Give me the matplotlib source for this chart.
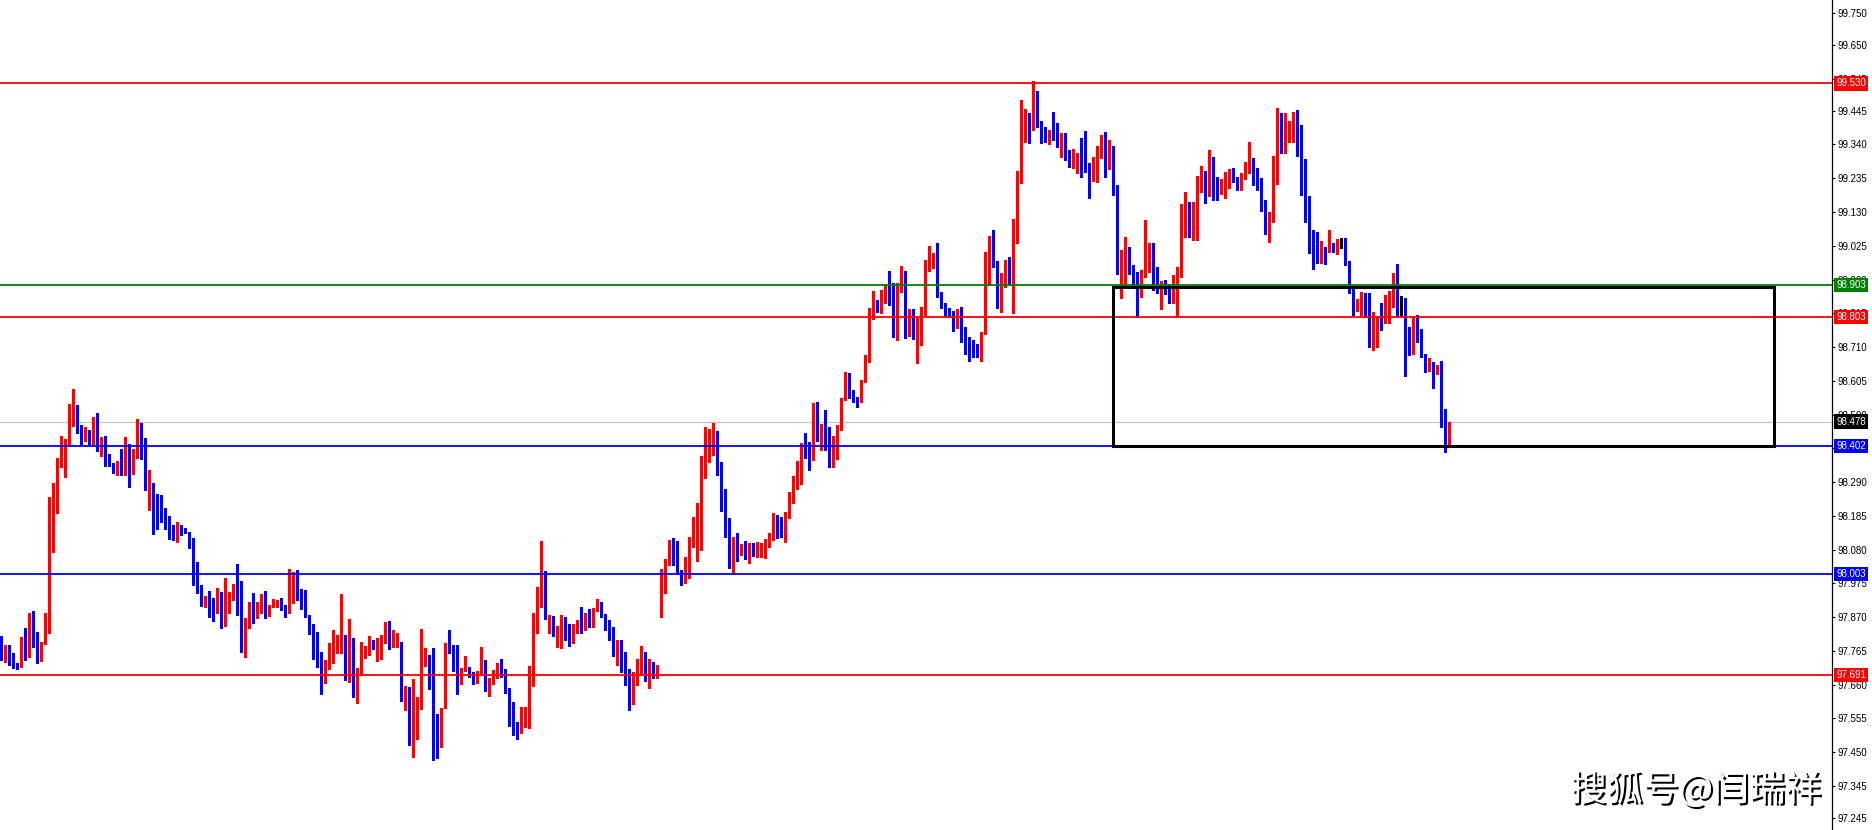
import numpy as np
import matplotlib
matplotlib.use("Agg")
import matplotlib.pyplot as plt
import matplotlib.patheffects as pe
from matplotlib.patches import Rectangle

# candle data (one bar every 4 px, oldest first)
opens = [
    97.809, 97.742, 97.783, 97.747, 97.719, 97.714, 97.802, 97.762, 97.869, 97.788,
    97.783, 97.785, 97.849, 98.157, 98.260, 98.359, 98.388, 98.408, 98.483, 98.525,
    98.468, 98.431, 98.452, 98.408, 98.471, 98.388, 98.429, 98.362, 98.346, 98.328,
    98.356, 98.328, 98.393, 98.336, 98.369, 98.468, 98.423, 98.282, 98.287, 98.217,
    98.214, 98.203, 98.157, 98.122, 98.116, 98.151, 98.138, 98.135, 98.117, 97.989,
    97.970, 97.927, 97.932, 97.918, 97.887, 97.948, 97.869, 97.892, 97.944, 97.954,
    97.889, 97.773, 97.840, 97.913, 97.884, 97.884, 97.939, 97.877, 97.905, 97.907,
    97.916, 97.906, 97.889, 97.965, 98.001, 97.942, 97.911, 97.873, 97.847, 97.790,
    97.759, 97.677, 97.737, 97.759, 97.772, 97.785, 97.814, 97.672, 97.806, 97.641,
    97.693, 97.750, 97.752, 97.799, 97.778, 97.794, 97.809, 97.814, 97.780, 97.783,
    97.793, 97.612, 97.654, 97.529, 97.607, 97.619, 97.724, 97.752, 97.752, 97.569,
    97.517, 97.586, 97.778, 97.768, 97.759, 97.676, 97.705, 97.707, 97.695, 97.683,
    97.695, 97.737, 97.645, 97.672, 97.685, 97.702, 97.693, 97.638, 97.588, 97.534,
    97.511, 97.542, 97.579, 97.693, 97.822, 97.905, 98.001, 97.863, 97.873, 97.820,
    97.830, 97.866, 97.820, 97.800, 97.840, 97.860, 97.840, 97.860, 97.850, 97.897,
    97.914, 97.876, 97.840, 97.820, 97.770, 97.780, 97.720, 97.690, 97.630, 97.680,
    97.720, 97.740, 97.690, 97.710, 97.690, 97.877, 97.949, 98.042, 98.084, 98.060,
    98.014, 97.996, 98.029, 98.099, 98.172, 98.198, 98.361, 98.369, 98.379, 98.405,
    98.350, 98.208, 98.153, 98.032, 98.087, 98.073, 98.089, 98.081, 98.091, 98.079,
    98.084, 98.089, 98.093, 98.115, 98.188, 98.162, 98.131, 98.177, 98.224, 98.268,
    98.338, 98.405, 98.400, 98.359, 98.471, 98.421, 98.465, 98.462, 98.400, 98.426,
    98.460, 98.550, 98.607, 98.561, 98.552, 98.543, 98.605, 98.664, 98.825, 98.838,
    98.825, 98.853, 98.875, 98.867, 98.778, 98.882, 98.931, 98.768, 98.815, 98.753,
    98.771, 98.813, 98.952, 98.968, 98.975, 98.879, 98.836, 98.828, 98.806, 98.771,
    98.825, 98.771, 98.732, 98.697, 98.696, 98.687, 98.753, 98.965, 99.020, 98.968,
    98.838, 98.903, 98.942, 98.913, 99.036, 99.230, 99.383, 99.409, 99.395, 99.506,
    99.413, 99.369, 99.352, 99.366, 99.362, 99.333, 99.369, 99.323, 99.273, 99.281,
    99.310, 99.299, 99.276, 99.237, 99.294, 99.331, 99.366, 99.268, 99.300, 99.211,
    98.950, 98.986, 99.009, 98.950, 98.913, 98.867, 98.937, 98.996, 99.032, 98.898,
    98.891, 98.896, 98.893, 98.882, 98.918, 98.939, 99.062, 99.152, 99.072, 99.131,
    99.209, 99.223, 99.180, 99.295, 99.201, 99.198, 99.209, 99.232, 99.261, 99.227,
    99.214, 99.248, 99.273, 99.295, 99.243, 99.221, 99.167, 99.062, 99.100, 99.258,
    99.411, 99.316, 99.377, 99.388, 99.401, 99.388, 99.252, 99.118, 99.019, 99.007,
    98.991, 99.019, 99.014, 99.030, 99.007, 99.034, 99.043, 98.978, 98.887, 98.830,
    98.836, 98.874, 98.872, 98.742, 98.773, 98.796, 98.786, 98.823, 98.877, 98.918,
    98.823, 98.822, 98.711, 98.688, 98.789, 98.766, 98.685, 98.636, 98.664, 98.630,
    98.642, 98.504, 98.428,
]
highs = [
    97.811, 97.783, 97.783, 97.759, 97.726, 97.809, 97.835, 97.882, 97.890, 97.825,
    97.794, 97.882, 98.245, 98.288, 98.364, 98.433, 98.423, 98.533, 98.580, 98.530,
    98.468, 98.460, 98.452, 98.493, 98.506, 98.431, 98.433, 98.377, 98.348, 98.356,
    98.392, 98.429, 98.408, 98.392, 98.485, 98.473, 98.426, 98.328, 98.287, 98.253,
    98.250, 98.208, 98.185, 98.157, 98.167, 98.157, 98.146, 98.136, 98.117, 98.042,
    97.970, 97.936, 97.952, 97.928, 97.960, 97.948, 97.991, 97.949, 97.973, 98.035,
    97.982, 97.867, 97.918, 97.944, 97.918, 97.942, 97.952, 97.908, 97.925, 97.923,
    97.928, 97.908, 98.020, 98.011, 98.017, 97.957, 97.954, 97.877, 97.847, 97.825,
    97.761, 97.737, 97.790, 97.830, 97.814, 97.942, 97.814, 97.863, 97.806, 97.711,
    97.794, 97.780, 97.811, 97.799, 97.804, 97.814, 97.854, 97.858, 97.830, 97.822,
    97.793, 97.657, 97.654, 97.677, 97.622, 97.833, 97.773, 97.752, 97.775, 97.569,
    97.586, 97.788, 97.830, 97.782, 97.782, 97.713, 97.749, 97.716, 97.700, 97.702,
    97.777, 97.737, 97.680, 97.705, 97.728, 97.740, 97.709, 97.648, 97.607, 97.545,
    97.591, 97.591, 97.719, 97.882, 97.965, 98.107, 98.013, 97.877, 97.873, 97.842,
    97.877, 97.870, 97.850, 97.850, 97.860, 97.902, 97.882, 97.894, 97.897, 97.926,
    97.917, 97.880, 97.860, 97.840, 97.800, 97.800, 97.760, 97.710, 97.700, 97.740,
    97.780, 97.760, 97.740, 97.730, 97.720, 98.019, 98.050, 98.110, 98.115, 98.108,
    98.016, 98.058, 98.120, 98.182, 98.224, 98.371, 98.462, 98.454, 98.475, 98.450,
    98.353, 98.268, 98.179, 98.120, 98.133, 98.097, 98.108, 98.101, 98.099, 98.105,
    98.101, 98.112, 98.133, 98.193, 98.188, 98.180, 98.198, 98.260, 98.309, 98.356,
    98.412, 98.444, 98.416, 98.535, 98.540, 98.470, 98.514, 98.462, 98.433, 98.467,
    98.550, 98.633, 98.628, 98.576, 98.556, 98.609, 98.685, 98.832, 98.885, 98.856,
    98.887, 98.906, 98.946, 98.908, 98.908, 98.962, 98.946, 98.827, 98.827, 98.799,
    98.833, 98.981, 99.024, 99.001, 99.034, 98.882, 98.846, 98.830, 98.823, 98.829,
    98.833, 98.773, 98.742, 98.732, 98.719, 98.757, 99.007, 99.055, 99.074, 98.979,
    98.941, 98.981, 98.989, 99.108, 99.258, 99.478, 99.449, 99.437, 99.537, 99.506,
    99.413, 99.393, 99.385, 99.440, 99.406, 99.377, 99.377, 99.323, 99.325, 99.315,
    99.359, 99.382, 99.283, 99.300, 99.335, 99.369, 99.379, 99.354, 99.335, 99.214,
    99.012, 99.053, 99.022, 98.965, 98.944, 98.950, 99.105, 99.033, 99.035, 98.960,
    98.916, 98.920, 98.905, 98.934, 98.960, 99.155, 99.193, 99.162, 99.162, 99.242,
    99.273, 99.259, 99.323, 99.302, 99.238, 99.232, 99.255, 99.263, 99.267, 99.240,
    99.252, 99.284, 99.349, 99.299, 99.266, 99.235, 99.167, 99.131, 99.304, 99.455,
    99.437, 99.437, 99.413, 99.442, 99.447, 99.401, 99.294, 99.180, 99.074, 99.069,
    99.041, 99.022, 99.074, 99.033, 99.045, 99.048, 99.048, 98.978, 98.898, 98.858,
    98.882, 98.877, 98.879, 98.820, 98.807, 98.848, 98.872, 98.885, 98.941, 98.968,
    98.869, 98.864, 98.773, 98.807, 98.810, 98.766, 98.688, 98.675, 98.664, 98.654,
    98.668, 98.516, 98.476,
]
lows = [
    97.737, 97.731, 97.721, 97.711, 97.708, 97.714, 97.737, 97.747, 97.778, 97.728,
    97.735, 97.785, 97.820, 98.074, 98.193, 98.336, 98.307, 98.405, 98.464, 98.444,
    98.407, 98.418, 98.405, 98.405, 98.388, 98.371, 98.340, 98.340, 98.319, 98.312,
    98.312, 98.312, 98.276, 98.315, 98.364, 98.361, 98.265, 98.203, 98.128, 98.144,
    98.167, 98.143, 98.112, 98.110, 98.105, 98.125, 98.131, 98.084, 97.970, 97.946,
    97.905, 97.902, 97.871, 97.859, 97.882, 97.835, 97.842, 97.882, 97.923, 97.877,
    97.762, 97.745, 97.835, 97.853, 97.866, 97.882, 97.866, 97.873, 97.902, 97.902,
    97.892, 97.869, 97.882, 97.915, 97.923, 97.895, 97.871, 97.816, 97.740, 97.716,
    97.632, 97.664, 97.710, 97.726, 97.757, 97.757, 97.674, 97.669, 97.622, 97.602,
    97.690, 97.742, 97.752, 97.770, 97.734, 97.739, 97.790, 97.770, 97.776, 97.778,
    97.609, 97.581, 97.472, 97.436, 97.491, 97.583, 97.718, 97.645, 97.424, 97.431,
    97.465, 97.586, 97.757, 97.703, 97.632, 97.661, 97.702, 97.685, 97.661, 97.666,
    97.693, 97.641, 97.625, 97.662, 97.680, 97.685, 97.633, 97.532, 97.503, 97.491,
    97.508, 97.529, 97.526, 97.657, 97.822, 97.902, 97.863, 97.822, 97.811, 97.776,
    97.775, 97.800, 97.780, 97.790, 97.820, 97.820, 97.830, 97.840, 97.840, 97.890,
    97.870, 97.830, 97.800, 97.750, 97.720, 97.700, 97.660, 97.580, 97.600, 97.660,
    97.690, 97.670, 97.650, 97.680, 97.680, 97.870, 97.944, 98.032, 98.032, 98.004,
    97.970, 97.975, 97.991, 98.089, 98.045, 98.079, 98.302, 98.353, 98.374, 98.312,
    98.201, 98.118, 98.022, 98.004, 98.045, 98.063, 98.050, 98.039, 98.060, 98.058,
    98.058, 98.053, 98.089, 98.110, 98.115, 98.118, 98.105, 98.177, 98.224, 98.268,
    98.284, 98.364, 98.327, 98.359, 98.419, 98.390, 98.390, 98.336, 98.336, 98.361,
    98.452, 98.545, 98.550, 98.540, 98.522, 98.540, 98.602, 98.664, 98.796, 98.820,
    98.815, 98.848, 98.841, 98.742, 98.732, 98.882, 98.739, 98.744, 98.734, 98.661,
    98.716, 98.810, 98.947, 98.955, 98.867, 98.830, 98.804, 98.802, 98.761, 98.768,
    98.727, 98.688, 98.668, 98.678, 98.680, 98.668, 98.750, 98.903, 98.960, 98.830,
    98.820, 98.898, 98.903, 98.817, 99.033, 99.221, 99.349, 99.346, 99.385, 99.393,
    99.346, 99.347, 99.342, 99.354, 99.331, 99.302, 99.292, 99.269, 99.266, 99.252,
    99.240, 99.255, 99.175, 99.227, 99.224, 99.297, 99.240, 99.264, 99.183, 98.937,
    98.864, 98.903, 98.937, 98.898, 98.804, 98.867, 98.927, 98.944, 98.887, 98.877,
    98.827, 98.875, 98.846, 98.846, 98.804, 98.929, 99.051, 99.053, 99.043, 99.043,
    99.193, 99.159, 99.180, 99.167, 99.167, 99.185, 99.172, 99.204, 99.224, 99.198,
    99.198, 99.232, 99.252, 99.214, 99.198, 99.134, 99.062, 99.038, 99.100, 99.217,
    99.313, 99.313, 99.349, 99.349, 99.304, 99.183, 99.100, 99.004, 98.953, 98.970,
    98.972, 98.967, 99.007, 99.005, 98.999, 99.019, 98.965, 98.877, 98.810, 98.823,
    98.810, 98.804, 98.711, 98.701, 98.709, 98.763, 98.786, 98.784, 98.834, 98.805,
    98.805, 98.620, 98.685, 98.688, 98.727, 98.680, 98.633, 98.636, 98.582, 98.626,
    98.462, 98.385, 98.400,
]
closes = [
    97.742, 97.783, 97.742, 97.719, 97.714, 97.804, 97.762, 97.871, 97.788, 97.783,
    97.791, 97.851, 98.162, 98.262, 98.359, 98.390, 98.414, 98.485, 98.527, 98.464,
    98.429, 98.452, 98.408, 98.471, 98.388, 98.429, 98.357, 98.343, 98.328, 98.356,
    98.328, 98.393, 98.336, 98.371, 98.471, 98.419, 98.284, 98.287, 98.210, 98.210,
    98.198, 98.154, 98.118, 98.113, 98.151, 98.136, 98.134, 98.117, 97.985, 97.968,
    97.925, 97.932, 97.911, 97.890, 97.948, 97.869, 97.894, 97.946, 97.954, 97.887,
    97.773, 97.842, 97.911, 97.884, 97.892, 97.942, 97.877, 97.906, 97.911, 97.915,
    97.902, 97.887, 97.970, 98.001, 97.939, 97.908, 97.871, 97.847, 97.790, 97.759,
    97.677, 97.737, 97.765, 97.775, 97.786, 97.814, 97.674, 97.807, 97.645, 97.695,
    97.752, 97.754, 97.797, 97.778, 97.799, 97.811, 97.814, 97.781, 97.788, 97.793,
    97.612, 97.654, 97.529, 97.609, 97.619, 97.724, 97.752, 97.680, 97.563, 97.517,
    97.586, 97.776, 97.766, 97.759, 97.677, 97.711, 97.713, 97.685, 97.683, 97.700,
    97.737, 97.643, 97.676, 97.693, 97.702, 97.687, 97.635, 97.586, 97.532, 97.511,
    97.544, 97.581, 97.695, 97.827, 97.908, 98.001, 97.863, 97.877, 97.820, 97.840,
    97.861, 97.820, 97.800, 97.840, 97.850, 97.840, 97.860, 97.850, 97.897, 97.911,
    97.876, 97.840, 97.820, 97.770, 97.780, 97.720, 97.690, 97.630, 97.680, 97.720,
    97.740, 97.690, 97.710, 97.690, 97.705, 97.954, 98.042, 98.084, 98.060, 98.008,
    97.998, 98.029, 98.099, 98.177, 98.198, 98.361, 98.372, 98.382, 98.405, 98.346,
    98.205, 98.149, 98.032, 98.087, 98.073, 98.084, 98.081, 98.092, 98.081, 98.087,
    98.094, 98.101, 98.115, 98.190, 98.156, 98.131, 98.180, 98.229, 98.272, 98.341,
    98.405, 98.390, 98.340, 98.471, 98.419, 98.464, 98.462, 98.400, 98.429, 98.464,
    98.550, 98.609, 98.556, 98.550, 98.543, 98.607, 98.666, 98.829, 98.838, 98.825,
    98.856, 98.872, 98.865, 98.778, 98.884, 98.931, 98.768, 98.815, 98.750, 98.771,
    98.813, 98.953, 98.968, 98.975, 98.879, 98.833, 98.823, 98.804, 98.773, 98.827,
    98.765, 98.727, 98.696, 98.692, 98.687, 98.753, 98.968, 99.019, 98.962, 98.838,
    98.913, 98.946, 98.916, 99.040, 99.233, 99.385, 99.409, 99.392, 99.506, 99.411,
    99.367, 99.354, 99.366, 99.357, 99.336, 99.369, 99.321, 99.273, 99.284, 99.310,
    99.297, 99.273, 99.237, 99.295, 99.331, 99.366, 99.268, 99.300, 99.211, 98.950,
    98.986, 99.012, 98.950, 98.913, 98.804, 98.937, 98.996, 99.029, 98.944, 98.891,
    98.896, 98.889, 98.882, 98.924, 98.939, 99.062, 99.152, 99.072, 99.133, 99.211,
    99.223, 99.180, 99.295, 99.198, 99.196, 99.211, 99.238, 99.261, 99.227, 99.214,
    99.250, 99.279, 99.295, 99.233, 99.233, 99.165, 99.062, 99.100, 99.258, 99.408,
    99.316, 99.380, 99.390, 99.401, 99.383, 99.252, 99.115, 99.019, 99.004, 98.989,
    99.017, 99.010, 99.022, 99.010, 99.043, 99.034, 98.972, 98.887, 98.830, 98.838,
    98.872, 98.861, 98.742, 98.779, 98.802, 98.789, 98.827, 98.879, 98.918, 98.823,
    98.823, 98.708, 98.688, 98.789, 98.763, 98.682, 98.636, 98.672, 98.630, 98.644,
    98.504, 98.431, 98.476,
]

# horizontal levels drawn on the chart
level_prices = [99.530, 98.903, 98.803, 98.402, 98.003, 97.691]
level_colors = ["#ff0000", "#008000", "#ff0000", "#0000ff", "#0000ff", "#ff0000"]
bid_price = 98.478

# price scale ticks on the right
tick_values = [99.750, 99.650, 99.545, 99.445, 99.340, 99.235, 99.130, 99.025,
               98.920, 98.815, 98.710, 98.605, 98.500, 98.395, 98.290, 98.185,
               98.080, 97.975, 97.870, 97.765, 97.660, 97.555, 97.450, 97.345,
               97.245]

# rectangle drawn over the range (bar index / price)
box_left, box_right = 278.1, 443.3
box_low, box_high = 98.402, 98.897

watermark = "搜狐号@闫瑞祥"

plt.rcParams["font.family"] = ["Liberation Sans", "DejaVu Sans"]

W, H = 1872, 830
fig = plt.figure(figsize=(W / 100, H / 100), dpi=100)
fig.patch.set_facecolor("white")
ax = fig.add_axes([0, 0, 1832 / W, 1])
ax.set_facecolor("white")

o = np.array(opens)
h = np.array(highs)
l = np.array(lows)
c = np.array(closes)
x = np.arange(len(o))

cols = np.where(c > o, "#ff0000", np.where(c < o, "#0000ff", "#000000"))

# wicks and bodies
ax.vlines(x, l, h, colors=cols, linewidth=0.75, antialiased=False, zorder=2)
body_lo = np.minimum(o, c)
body_h = np.maximum(np.abs(c - o), 0.0032)
ax.bar(x, body_h, bottom=body_lo, width=0.75, color=cols, linewidth=0,
       antialiased=False, zorder=2)

# levels
ax.axhline(bid_price, color="#c0c0c0", lw=0.8, zorder=1.5)
for p, col in zip(level_prices, level_colors):
    ax.axhline(p, color=col, lw=1.3, zorder=4)

ax.add_patch(Rectangle((box_left, box_low), box_right - box_left, box_high - box_low,
                       fill=False, ec="black", lw=2.2, zorder=5))

# axes / scale
ax.set_xlim(-0.25, 457.75)
ax.set_ylim(97.2078, 99.7894)
ax.set_xticks([])
ax.yaxis.tick_right()
ax.set_yticks(tick_values)
ax.set_yticklabels(["%.3f" % v for v in tick_values])
ax.tick_params(axis="y", direction="out", length=2.5, width=0.8, pad=1.5,
               labelsize=7, colors="black")
for side in ["left", "top", "bottom"]:
    ax.spines[side].set_visible(False)
ax.spines["right"].set_linewidth(0.9)
ax.spines["right"].set_color("black")

# coloured price tags on the scale
tag_tr = ax.get_yaxis_transform()
for p, col in zip(level_prices, level_colors):
    ax.text(1.0024, p, "%.3f" % p, transform=tag_tr, ha="left", va="center",
            fontsize=7, color="white", clip_on=False, zorder=10,
            bbox=dict(boxstyle="square,pad=0.22", fc=col, ec="none"))
ax.text(1.0024, bid_price, "%.3f" % bid_price, transform=tag_tr, ha="left",
        va="center", fontsize=7, color="white", clip_on=False, zorder=10,
        bbox=dict(boxstyle="square,pad=0.22", fc="black", ec="none"))

# watermark
fig.text(1696 / W, 1 - 790 / H, watermark, ha="center", va="center",
         fontsize=26, color="white",
         family=["Noto Sans CJK SC", "DejaVu Sans"],
         path_effects=[pe.withSimplePatchShadow(offset=(1.5, -1.5),
                                                shadow_rgbFace="black", alpha=1.0)])

fig.savefig("out.png", dpi=100, facecolor="white")
